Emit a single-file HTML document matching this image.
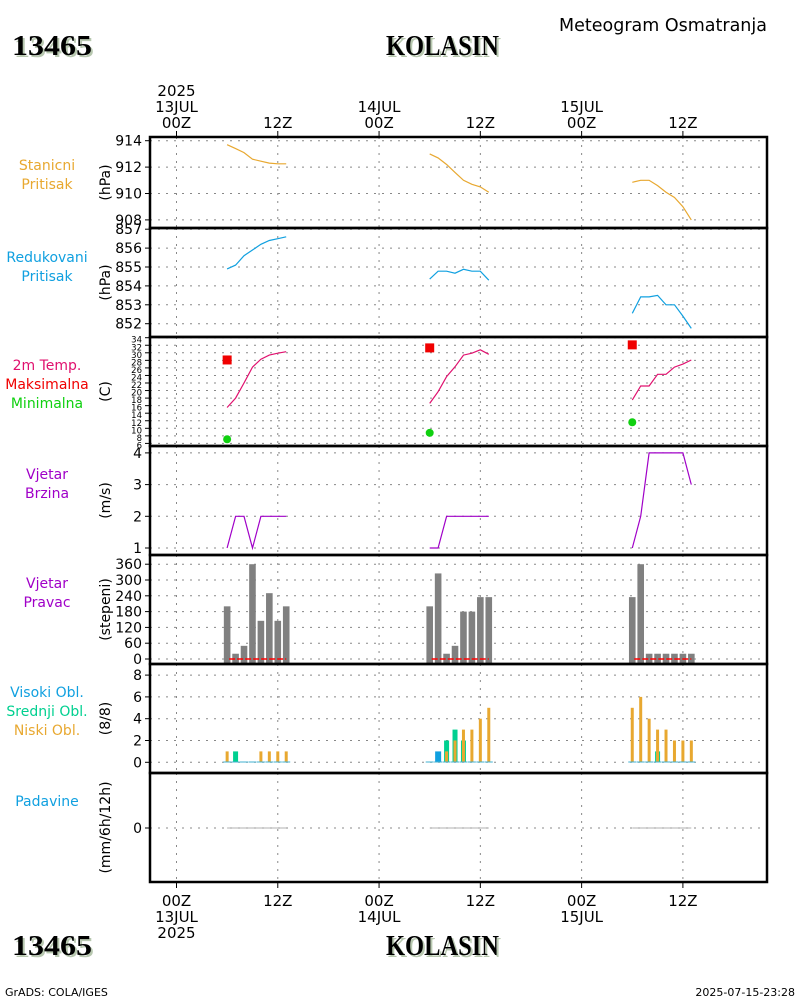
<!DOCTYPE html>
<html><head><meta charset="utf-8"><style>
body{margin:0;background:#fff;width:800px;height:1000px;overflow:hidden}
svg{display:block}
text{font-family:"DejaVu Sans","Liberation Sans",sans-serif}
.ttl{font-family:"Liberation Serif",serif;font-weight:bold;font-size:28px}
</style></head><body>
<svg id="c" width="800" height="1000" xmlns="http://www.w3.org/2000/svg">
<g>
<text x="14" y="57" class="ttl" fill="#b8c8b0" textLength="80" lengthAdjust="spacingAndGlyphs">13465</text>
<text x="12" y="55" class="ttl" fill="#000" textLength="80" lengthAdjust="spacingAndGlyphs">13465</text>
<text x="388" y="57" class="ttl" fill="#b8c8b0" textLength="113" lengthAdjust="spacingAndGlyphs">KOLASIN</text>
<text x="386" y="55" class="ttl" fill="#000" textLength="113" lengthAdjust="spacingAndGlyphs">KOLASIN</text>
<text x="663" y="31" font-size="18" text-anchor="middle" fill="#000" textLength="208" lengthAdjust="spacingAndGlyphs">Meteogram Osmatranja</text>
<text x="14" y="957" class="ttl" fill="#b8c8b0" textLength="80" lengthAdjust="spacingAndGlyphs">13465</text>
<text x="12" y="955" class="ttl" fill="#000" textLength="80" lengthAdjust="spacingAndGlyphs">13465</text>
<text x="388" y="957" class="ttl" fill="#b8c8b0" textLength="113" lengthAdjust="spacingAndGlyphs">KOLASIN</text>
<text x="386" y="955" class="ttl" fill="#000" textLength="113" lengthAdjust="spacingAndGlyphs">KOLASIN</text>
<text x="5" y="996" font-size="11">GrADS: COLA/IGES</text>
<text x="795" y="996" font-size="11" text-anchor="end">2025-07-15-23:28</text>
</g>
<g id="g"></g>
</svg>
<script>
// time labels (hours from 13JUL 00Z)
const tickHours=[0,12,24,36,48,60];
const topLabels=[["2025","13JUL","00Z"],["12Z"],["14JUL","00Z"],["12Z"],["15JUL","00Z"],["12Z"]];
const botLabels=[["00Z","13JUL","2025"],["12Z"],["00Z","14JUL"],["12Z"],["00Z","15JUL"],["12Z"]];
const day1=[6,7,8,9,10,11,12,13], day2=[30,31,32,33,34,35,36,37], day3=[54,55,56,57,58,59,60,61];
const hours=[day1,day2,day3];
const pstn=[[913.7,913.4,913.1,912.6,912.45,912.3,912.25,912.25],[913.0,912.7,912.2,911.6,911.0,910.7,910.5,910.1],[910.85,911.0,911.0,910.6,910.1,909.7,909.0,908.0]];
const pred=[[854.9,855.1,855.6,855.9,856.2,856.4,856.5,856.6],[854.36,854.78,854.78,854.67,854.88,854.78,854.78,854.3],[852.55,853.42,853.42,853.5,853.0,853.0,852.4,851.75]];
const temp=[[15.5,18.0,22.0,26.2,28.3,29.4,29.9,30.3],[16.6,19.7,23.7,26.3,29.4,29.9,30.8,29.6],[17.5,21.2,21.2,24.3,24.3,26.2,27.0,28.1]];
const tmax=[28.1,31.3,32.1], tmin=[7.1,8.8,11.6];
const wspd=[[1,2,2,1,2,2,2,2],[1,1,2,2,2,2,2,2],[1,2,4,4,4,4,4,3]];
const wdir=[[200,20,50,360,145,250,145,200],[200,325,20,50,180,180,235,235],[235,360,20,20,20,20,20,20]];
const cLow=[[1,0,0,0,1,1,1,1],[0,0,1,2,3,3,4,5],[5,6,4,3,3,2,2,2]];
const cMid=[[0,1,0,0,0,0,0,0],[0,0,2,3,2,0,0,0],[0,0,0,1,0,0,0,0]];
const cHigh=[[0,0,0,0,0,0,0,0],[0,1,0,0,0,0,0,0],[0,0,0,0,0,0,0,0]];
const precip=[[0,0,0,0,0,0,0,0],[0,0,0,0,0,0,0,0],[0,0,0,0,0,0,0,0]];
const pTicks=[914,912,910,908], rTicks=[857,856,855,854,853,852];
const tTicks=[34,32,30,28,26,24,22,20,18,16,14,12,10,8,6];
const sTicks=[4,3,2,1], dTicks=[360,300,240,180,120,60,0], cTicks=[8,6,4,2,0], rrTicks=[0];

const NS="http://www.w3.org/2000/svg", G=document.getElementById('g');
function el(t,a,p){const e=document.createElementNS(NS,t);for(const k in a)e.setAttribute(k,a[k]);(p||G).appendChild(e);return e;}
const X=h=>176.5+h*8.44, L=150, R=767;
const panels=[
 {top:137,bot:228,y:v=>140.7+(914-v)*13.2,ticks:pTicks,name:'station-pressure',unit:'(hPa)',lab:[['Stanicni','#e8a830'],['Pritisak','#e8a830']],ly:165},
 {top:228,bot:337,y:v=>267+(855-v)*18.9,ticks:rTicks,name:'reduced-pressure',unit:'(hPa)',lab:[['Redukovani','#10a0e0'],['Pritisak','#10a0e0']],ly:257},
 {top:337,bot:446,y:v=>337.7+(34-v)*3.775,ticks:tTicks,name:'temperature',unit:'(C)',lab:[['2m Temp.','#e0106e'],['Maksimalna','#f00000'],['Minimalna','#10d010']],fs:8.5,ly:365},
 {top:446,bot:555,y:v=>548+(1-v)*31.7,ticks:sTicks,name:'wind-speed',unit:'(m/s)',lab:[['Vjetar','#a000c8'],['Brzina','#a000c8']],ly:474},
 {top:555,bot:664,y:v=>659-v*0.2633,ticks:dTicks,name:'wind-direction',unit:'(stepeni)',lab:[['Vjetar','#a000c8'],['Pravac','#a000c8']],ly:583},
 {top:664,bot:773,y:v=>762.3-v*10.9,ticks:cTicks,name:'cloud-cover',unit:'(8/8)',lab:[['Visoki Obl.','#10a0e0'],['Srednji Obl.','#00d090'],['Niski Obl.','#e8a830']],ly:692},
 {top:773,bot:882,y:v=>828-v*20,ticks:rrTicks,name:'precipitation',unit:'(mm/6h/12h)',lab:[['Padavine','#10a0e0']],ly:801}
];
panels.forEach(p=>{
 const g=el('g',{});
 
 
 tickHours.forEach(h=>el('line',{x1:X(h),x2:X(h),y1:p.top,y2:p.bot,stroke:'#888','stroke-dasharray':'2,6'},g));
 p.ticks.forEach(v=>{const y=p.y(v);
  el('line',{x1:L,x2:R,y1:y,y2:y,stroke:'#888','stroke-dasharray':'2,6'},g);
  el('line',{x1:145,x2:L,y1:y,y2:y,stroke:'#000'},g);
  const t=el('text',{x:142,y:y+5,'font-size':p.fs||14,'text-anchor':'end'},g);t.textContent=v;
  
  
 });
 const my=(p.top+p.bot)/2;
 const u=el('text',{x:0,y:0,'font-size':14,'text-anchor':'middle',transform:`translate(110,${my}) rotate(-90)`},g);u.textContent=p.unit;
 
 
 p.lab.forEach((l,i)=>{const t=el('text',{x:47,y:p.ly+i*19+5,'font-size':14,'text-anchor':'middle',fill:l[1]},g);t.textContent=l[0];
  
  });
});
const P=panels;
function line(vals,hs,yf,col,name,w){const d=vals.map((v,i)=>(i?'L':'M')+X(hs[i]).toFixed(1)+','+yf(v).toFixed(1)).join('');
 const e=el('path',{d,fill:'none',stroke:col,'stroke-width':w||1.2});
 
 }
// wind direction bars
for(let d=0;d<3;d++){
 wdir[d].forEach((v,i)=>{const x=X(hours[d][i]),y=P[4].y(v);
  const b=el('rect',{x:x-3.3,y,width:6.6,height:664-y,fill:'#808080'});
  
  });
 const rl=el('line',{x1:X(hours[d][0])+2,x2:X(hours[d][7]),y1:659,y2:659,stroke:'#f00','stroke-width':1.5,'stroke-dasharray':'6,2'});
 
 
}
// clouds
for(let d=0;d<3;d++)hours[d].forEach((h,i)=>{const x=X(h);
 [[cHigh,'#10a0e0',6],[cMid,'#00d090',5],[cLow,'#e8a830',3]].forEach(([a,c,w])=>{const v=a[d][i];if(!v)return;
  const y=P[5].y(v);const b=el('rect',{x:x-w/2,y,width:w,height:762.3-y,fill:c});
  
  });
 const z=el('line',{x1:x-4,x2:x+4,y1:762,y2:762,stroke:'#40b0d0','stroke-width':1});
 
 
});
for(let d=0;d<3;d++){
 line(pstn[d],hours[d],P[0].y,'#e8a830','station-pressure-line');
 line(pred[d],hours[d],P[1].y,'#10a0e0','reduced-pressure-line');
 line(temp[d],hours[d],P[2].y,'#e0106e','temperature-line');
 line(wspd[d],hours[d],P[3].y,'#a000c8','wind-speed-line');
 line(precip[d],hours[d],P[6].y,'#999','precipitation-line',0.8);
 const x=X(hours[d][0]);
 const m=el('rect',{x:x-4.5,y:P[2].y(tmax[d])-4.5,width:9,height:9,fill:'#f00000'});
 
 
 const n=el('circle',{cx:x,cy:P[2].y(tmin[d]),r:4,fill:'#10d010'});
 
 
}
// frames
panels.forEach(p=>{const r=el('rect',{x:L,y:p.top,width:R-L,height:p.bot-p.top,fill:'none',stroke:'#000','stroke-width':2.5});
 
 });
tickHours.forEach((h,i)=>{const x=X(h);
 el('line',{x1:x,x2:x,y1:131,y2:137,stroke:'#000'});
 el('line',{x1:x,x2:x,y1:882,y2:888,stroke:'#000'});
 topLabels[i].forEach((s,j)=>{const n=topLabels[i].length;const t=el('text',{x,y:128-(n-1-j)*16,'font-size':15,'text-anchor':'middle'});t.textContent=s;
  
  });
 botLabels[i].forEach((s,j)=>{const t=el('text',{x,y:906+j*16,'font-size':15,'text-anchor':'middle'});t.textContent=s;
  
  });
});
</script>
</body></html>
